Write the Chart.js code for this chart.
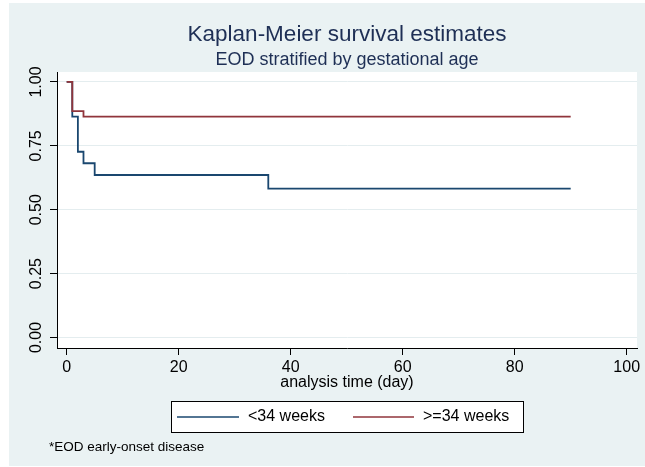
<!DOCTYPE html>
<html>
<head>
<meta charset="utf-8">
<script src="https://cdn.jsdelivr.net/npm/chart.js@4.4.1/dist/chart.umd.min.js"></script>
<style>
  html, body { margin: 0; padding: 0; background: #ffffff; }
  #wrap { width: 645px; height: 467px; position: relative; }
</style>
</head>
<body>
<div id="wrap"><canvas id="km" width="645" height="467"></canvas></div>
<script>
// Text
const chartTitle = 'Kaplan-Meier survival estimates';
const chartSubtitle = 'EOD stratified by gestational age';
const xAxisTitle = 'analysis time (day)';
const footNote = '*EOD early-onset disease';
const seriesLabels = ['<34 weeks', '>=34 weeks'];

// Kaplan-Meier step points (time in days, survival probability)
const pretermDays = [0, 1, 2, 3, 5, 36, 90];
const pretermSurvival = [1.0, 0.864, 0.727, 0.682, 0.636, 0.583, 0.583];
const termDays = [0, 1, 3, 90];
const termSurvival = [1.0, 0.886, 0.864, 0.864];

// Axis ticks
const xTicks = [0, 20, 40, 60, 80, 100];
const yTicks = [0, 0.25, 0.5, 0.75, 1.0];
const yTickLabels = ['0.00', '0.25', '0.50', '0.75', '1.00'];

const FONT = '"Liberation Sans", Arial, Helvetica, sans-serif';
const BG = '#eaf2f3';
const NAVY = '#1a476f';
const MAROON = '#90353b';

const toPoints = (xs, ys) => xs.map((x, i) => ({ x: x, y: ys[i] }));

const backdrop = {
  id: 'backdrop',
  beforeDraw(chart) {
    const { ctx, chartArea: a } = chart;
    ctx.save();
    ctx.fillStyle = '#ffffff';
    ctx.fillRect(0, 0, chart.width, chart.height);
    ctx.fillStyle = BG;
    ctx.fillRect(9, 3, chart.width - 9, chart.height - 4);
    ctx.fillStyle = '#ffffff';
    ctx.fillRect(a.left, a.top, a.right - a.left, a.bottom - a.top);
    ctx.restore();
  }
};

const annotations = {
  id: 'annotations',
  afterDraw(chart) {
    const { ctx, chartArea: a } = chart;
    const yScale = chart.scales.y;
    const cx = (a.left + a.right) / 2;
    ctx.save();

    // titles
    ctx.textAlign = 'center';
    ctx.textBaseline = 'alphabetic';
    ctx.fillStyle = '#1e2f55';
    ctx.font = '22.5px ' + FONT;
    ctx.fillText(chartTitle, cx, 41);
    ctx.font = '18px ' + FONT;
    ctx.fillText(chartSubtitle, cx, 65);

    // rotated y tick labels
    ctx.fillStyle = '#000000';
    ctx.font = '16px ' + FONT;
    ctx.textBaseline = 'middle';
    yScale.ticks.forEach((t, i) => {
      const py = yScale.getPixelForValue(t.value);
      ctx.save();
      ctx.translate(37, py);
      ctx.rotate(-Math.PI / 2);
      ctx.textAlign = 'center';
      ctx.fillText(yTickLabels[yTicks.indexOf(t.value)], 0, 0);
      ctx.restore();
    });

    // x axis title
    ctx.textAlign = 'center';
    ctx.textBaseline = 'middle';
    ctx.fillText(xAxisTitle, cx, 383);

    // legend box
    const box = { left: 171, top: 401, right: 523, bottom: 432 };
    ctx.fillStyle = '#ffffff';
    ctx.fillRect(box.left, box.top, box.right - box.left, box.bottom - box.top);
    ctx.strokeStyle = '#000000';
    ctx.lineWidth = 1;
    ctx.strokeRect(box.left + 0.5, box.top + 0.5, box.right - box.left, box.bottom - box.top);
    const midY = (box.top + box.bottom) / 2 + 0.5;
    const entries = [
      { x0: 177, x1: 239, tx: 248 },
      { x0: 353, x1: 414, tx: 423 }
    ];
    chart.data.datasets.forEach((ds, i) => {
      const e = entries[i];
      ctx.strokeStyle = ds.borderColor;
      ctx.lineWidth = 1.6;
      ctx.beginPath();
      ctx.moveTo(e.x0, midY);
      ctx.lineTo(e.x1, midY);
      ctx.stroke();
      ctx.fillStyle = '#000000';
      ctx.font = '16px ' + FONT;
      ctx.textAlign = 'left';
      ctx.textBaseline = 'middle';
      ctx.fillText(ds.label, e.tx, midY);
    });

    // note
    ctx.font = '13.5px ' + FONT;
    ctx.fillStyle = '#000000';
    ctx.textAlign = 'left';
    ctx.textBaseline = 'middle';
    ctx.fillText(footNote, 49, 447);

    ctx.restore();
  }
};

new Chart(document.getElementById('km'), {
  type: 'line',
  data: {
    datasets: [
      {
        label: seriesLabels[0],
        data: toPoints(pretermDays, pretermSurvival),
        borderColor: NAVY,
        borderWidth: 1.8,
        stepped: true,
        pointRadius: 0,
        fill: false,
        order: 1
      },
      {
        label: seriesLabels[1],
        data: toPoints(termDays, termSurvival),
        borderColor: MAROON,
        borderWidth: 1.8,
        stepped: true,
        pointRadius: 0,
        fill: false,
        order: 0
      }
    ]
  },
  options: {
    responsive: false,
    devicePixelRatio: 1,
    animation: false,
    events: [],
    layout: { padding: { left: 0, top: 72, right: 8, bottom: 79 } },
    plugins: {
      legend: { display: false },
      title: { display: false },
      tooltip: { enabled: false }
    },
    scales: {
      x: {
        type: 'linear',
        min: -1.73,
        max: 101.84,
        afterBuildTicks: s => { s.ticks = xTicks.map(v => ({ value: v })); },
        afterFit: s => { s.height = 40; },
        ticks: {
          color: '#000000',
          font: { family: FONT, size: 16 },
          padding: 3,
          maxRotation: 0,
          minRotation: 0,
          callback: v => String(v)
        },
        grid: {
          drawOnChartArea: false,
          drawTicks: true,
          tickLength: 7,
          tickColor: '#000000',
          tickWidth: 1
        },
        border: { display: true, color: '#000000', width: 1 }
      },
      y: {
        type: 'linear',
        min: -0.041,
        max: 1.039,
        afterBuildTicks: s => { s.ticks = yTicks.map(v => ({ value: v })); },
        afterFit: s => { s.width = 57; },
        ticks: { display: false },
        grid: {
          color: '#e4edef',
          lineWidth: 1,
          drawTicks: true,
          tickLength: 7,
          tickColor: '#000000',
          tickWidth: 1
        },
        border: { display: true, color: '#000000', width: 1 }
      }
    }
  },
  plugins: [backdrop, annotations]
});
</script>
</body>
</html>
